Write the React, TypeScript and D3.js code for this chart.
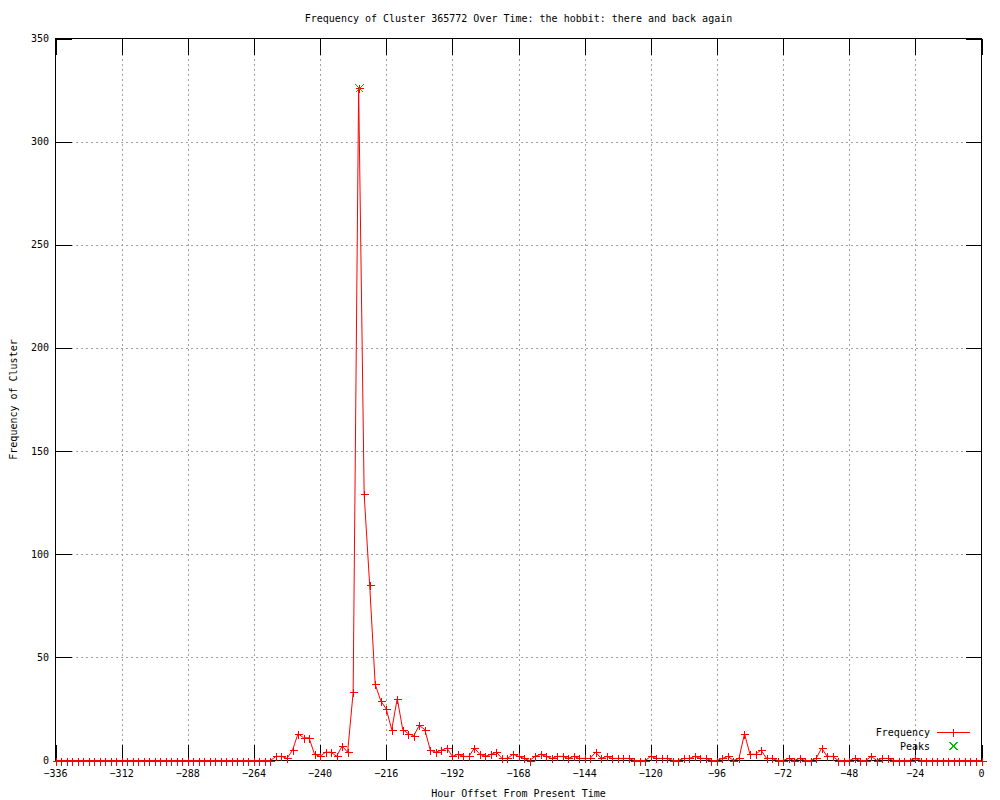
import React from "react";
import * as d3 from "d3";

// Hour offsets (every 2 hours from -336 to 0)
const hours: number[] = d3.range(-336, 1, 2);

// Frequency values, one row per 24-hour span (12 points each), plus the final point at 0
const frequency: number[] = [
  0, 0, 0, 0, 0, 0, 0, 0, 0, 0, 0, 0, // -336..-314
  0, 0, 0, 0, 0, 0, 0, 0, 0, 0, 0, 0, // -312..-290
  0, 0, 0, 0, 0, 0, 0, 0, 0, 0, 0, 0, // -288..-266
  0, 0, 0, 0, 2, 2, 1, 5, 13, 11, 11, 3, // -264..-242
  2, 4, 4, 2, 7, 4, 33, 326, 129, 85, 37, 29, // -240..-218
  25, 15, 30, 15, 13, 12, 17, 15, 5, 4, 5, 6, // -216..-194
  2, 3, 2, 2, 6, 3, 2, 3, 4, 1, 1, 3, // -192..-170
  2, 1, 0, 2, 3, 2, 1, 2, 2, 1, 2, 1, // -168..-146
  1, 1, 4, 1, 2, 1, 1, 1, 1, 0, 0, 0, // -144..-122
  2, 1, 1, 1, 0, 0, 1, 1, 2, 1, 1, 0, // -120..-98
  0, 1, 2, 0, 1, 13, 3, 3, 5, 1, 1, 0, // -96..-74
  0, 1, 0, 1, 0, 0, 1, 6, 2, 2, 0, 0, // -72..-50
  0, 1, 0, 0, 2, 0, 1, 1, 0, 0, 0, 0, // -48..-26
  1, 0, 0, 0, 0, 0, 0, 0, 0, 0, 0, 0, // -24..-2
  0, // 0
];

const peakHours: number[] = [-226];
const peakValues: number[] = [326];

const xTicks: number[] = [-336, -312, -288, -264, -240, -216, -192, -168, -144, -120, -96, -72, -48, -24, 0];
const yTicks: number[] = [0, 50, 100, 150, 200, 250, 300, 350];

const title = "Frequency of Cluster 365772 Over Time: the hobbit: there and back again";
const xLabel = "Hour Offset From Present Time";
const yLabel = "Frequency of Cluster";

const W = 1000;
const H = 800;
const left = 55.5;
const right = 981.5;
const top = 38.5;
const bottom = 760.5;
const tickLen = 16;
const FONT = "'DejaVu Sans Mono', 'Liberation Mono', monospace";

export default function App() {
  const x = d3.scaleLinear().domain([-336, 0]).range([left, right]);
  const y = d3.scaleLinear().domain([0, 350]).range([bottom, top]);

  const pts = hours.map((h, i) => [h, frequency[i]] as [number, number]);
  const line = d3
    .line<[number, number]>()
    .x((d) => x(d[0]))
    .y((d) => y(d[1]));

  const plus = (cx: number, cy: number, key: string | number, color: string) => (
    <path
      key={key}
      d={`M${cx - 4},${cy}H${cx + 4}M${cx},${cy - 4}V${cy + 4}`}
      stroke={color}
      strokeWidth={1}
      fill="none"
      shapeRendering="crispEdges"
    />
  );
  const cross = (cx: number, cy: number, key: string | number, color: string) => (
    <path
      key={key}
      d={`M${cx - 4},${cy - 4}L${cx + 4},${cy + 4}M${cx - 4},${cy + 4}L${cx + 4},${cy - 4}`}
      stroke={color}
      strokeWidth={1.3}
      fill="none"
      shapeRendering="crispEdges"
    />
  );

  const red = "#ff0000";
  const green = "#00c000";
  const gridColor = "#a0a0a0";

  return (
    <svg
      width={W}
      height={H}
      viewBox={`0 0 ${W} ${H}`}
      style={{ position: "absolute", left: 0, top: 0, background: "#fff" }}
      fontFamily={FONT}
      fontSize={10}
    >
      <rect x={0} y={0} width={W} height={H} fill="#fff" />
      {/* grid */}
      <g stroke={gridColor} strokeWidth={1} strokeDasharray="2,3" shapeRendering="crispEdges">
        {xTicks
          .filter((t) => t !== -336 && t !== 0)
          .map((t) => (
            <line key={"gx" + t} x1={Math.round(x(t)) + 0.5} x2={Math.round(x(t)) + 0.5} y1={bottom} y2={top} />
          ))}
        {yTicks
          .filter((t) => t !== 0 && t !== 350)
          .map((t) => (
            <line key={"gy" + t} x1={left} x2={right} y1={Math.round(y(t)) + 0.5} y2={Math.round(y(t)) + 0.5} />
          ))}
      </g>
      {/* ticks */}
      <g stroke="#000" strokeWidth={1} shapeRendering="crispEdges">
        {xTicks.map((t) => {
          const px = Math.round(x(t)) + 0.5;
          return (
            <g key={"tx" + t}>
              <line x1={px} x2={px} y1={bottom} y2={bottom - tickLen} />
              <line x1={px} x2={px} y1={top} y2={top + tickLen} />
            </g>
          );
        })}
        {yTicks.map((t) => {
          const py = Math.round(y(t)) + 0.5;
          return (
            <g key={"ty" + t}>
              <line x1={left} x2={left + tickLen} y1={py} y2={py} />
              <line x1={right} x2={right - tickLen} y1={py} y2={py} />
            </g>
          );
        })}
        <rect x={left} y={top} width={right - left} height={bottom - top} fill="none" />
      </g>
      {/* tick labels */}
      <g fill="#000">
        {xTicks.map((t) => (
          <text key={"lx" + t} x={x(t)} y={777} textAnchor="middle">
            {t < 0 ? "\u2212" + Math.abs(t) : String(t)}
          </text>
        ))}
        {yTicks.map((t) => (
          <text key={"ly" + t} x={49} y={y(t) + 3.5} textAnchor="end">
            {t}
          </text>
        ))}
      </g>
      {/* titles */}
      <text x={(left + right) / 2} y={22} textAnchor="middle" fill="#000">
        {title}
      </text>
      <text x={(left + right) / 2} y={797} textAnchor="middle" fill="#000">
        {xLabel}
      </text>
      <text
        transform={`translate(17, ${(top + bottom) / 2}) rotate(-90)`}
        textAnchor="middle"
        fill="#000"
      >
        {yLabel}
      </text>
      {/* series */}
      <path d={line(pts) || ""} fill="none" stroke={red} strokeWidth={1} />
      <g>{pts.map((p, i) => plus(Math.round(x(p[0])) + 0.5, Math.round(y(p[1])) + 0.5, "p" + i, red))}</g>
      <g>
        {peakHours.map((h, i) => cross(Math.round(x(h)) + 0.5, Math.round(y(peakValues[i])) + 0.5, "pk" + i, green))}
      </g>
      {/* legend */}
      <text x={930} y={735.5} textAnchor="end" fill="#000">
        Frequency
      </text>
      <line x1={937} x2={970} y1={732.5} y2={732.5} stroke={red} strokeWidth={1} shapeRendering="crispEdges" />
      {plus(953.5, 732.5, "lp", red)}
      <text x={930} y={749.5} textAnchor="end" fill="#000">
        Peaks
      </text>
      {cross(953.5, 746, "lc", green)}
    </svg>
  );
}
